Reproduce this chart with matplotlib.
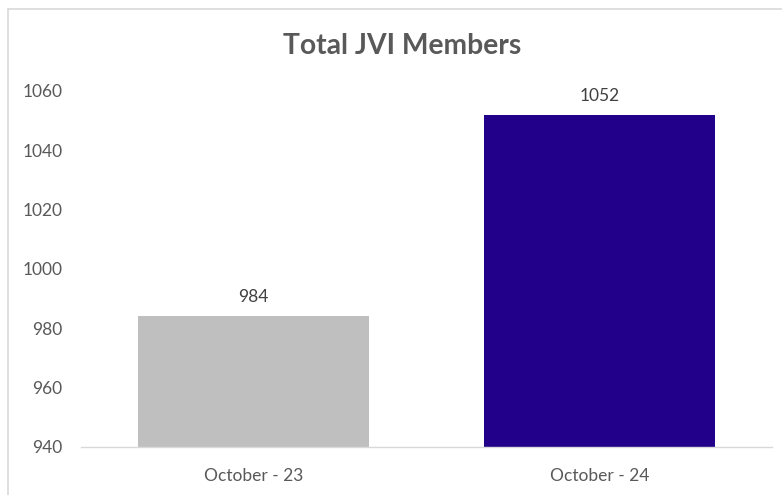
import matplotlib
matplotlib.use("Agg")
import matplotlib.pyplot as plt
from matplotlib.lines import Line2D

categories = ["October - 23", "October - 24"]
values = [984, 1052]
colors = ["#BFBFBF", "#22008A"]
yticks = [940, 960, 980, 1000, 1020, 1040, 1060]

plt.rcParams['font.family'] = ['Lato', 'DejaVu Sans']
W, H = 782, 495
fig = plt.figure(figsize=(W / 100, H / 100), dpi=100)
ax = fig.add_axes([81 / W, 1 - 447 / H, (772 - 81) / W, (447 - 91) / H])

x = list(range(len(categories)))
bars = ax.bar(x, values, width=0.67, color=colors, bottom=0)
ax.set_xlim(-0.5, len(categories) - 0.5)
ax.set_ylim(940, 1060)
ax.set_yticks(yticks)
ax.set_yticklabels([str(t) for t in yticks])
ax.set_xticks(x)
ax.set_xticklabels(categories)

for s in ['left', 'right', 'top']:
    ax.spines[s].set_visible(False)
ax.spines['bottom'].set_color('#D9D9D9')
ax.spines['bottom'].set_linewidth(1.0)
ax.tick_params(axis='both', length=0, labelsize=12.5, colors='#595959')
ax.tick_params(axis='y', pad=13.5)
ax.tick_params(axis='x', pad=15)

for xi, v in zip(x, values):
    ax.annotate(str(v), (xi, v), xytext=(0, 8), textcoords='offset points',
                ha='center', va='bottom', fontsize=12.5, color='#404040')

fig.text(402 / W, 1 - 46 / H, "Total JVI Members", ha='center', va='center',
         fontsize=20.3, fontweight='bold', color='#595959')

# chart border (partially cropped)
fig.add_artist(Line2D([7.5 / W, 7.5 / W], [0, 1 - 9 / H], color='#D9D9D9', lw=1.2,
                      transform=fig.transFigure))
fig.add_artist(Line2D([7.5 / W, 1], [1 - 9 / H, 1 - 9 / H], color='#D9D9D9', lw=1.2,
                      transform=fig.transFigure))

fig.savefig("out.png", dpi=100)
